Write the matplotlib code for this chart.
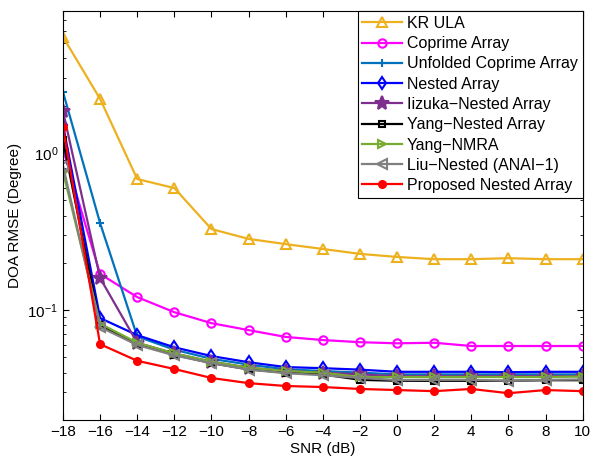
import numpy as np
import matplotlib
matplotlib.use('Agg')
import matplotlib.pyplot as plt
from matplotlib.ticker import LogLocator, NullFormatter

plt.rcParams['font.family'] = ['Liberation Sans', 'DejaVu Sans']
plt.rcParams['font.size'] = 11

# SNR (dB) and RMSE values
snr = [-18, -16, -14, -12, -10, -8, -6, -4, -2, 0, 2, 4, 6, 8, 10]
kr_ula = [5.48, 2.21, 0.683, 0.598, 0.328, 0.284, 0.263, 0.245, 0.228, 0.218, 0.211, 0.211, 0.214, 0.211, 0.211]
coprime = [1.06, 0.170, 0.121, 0.097, 0.0826, 0.0746, 0.0675, 0.0645, 0.0625, 0.0615, 0.0620, 0.0591, 0.0591, 0.0591, 0.0591]
unfolded = [2.45, 0.358, 0.068, 0.056, 0.049, 0.045, 0.042, 0.041, 0.040, 0.039, 0.039, 0.039, 0.039, 0.039, 0.039]
nested = [1.51, 0.089, 0.0693, 0.058, 0.051, 0.0466, 0.0434, 0.0427, 0.0418, 0.0405, 0.0405, 0.0405, 0.0403, 0.0405, 0.0405]
iizuka = [1.85, 0.160, 0.062, 0.053, 0.047, 0.043, 0.041, 0.040, 0.039, 0.038, 0.038, 0.038, 0.038, 0.038, 0.038]
yang_nested = [1.21, 0.080, 0.061, 0.052, 0.046, 0.042, 0.040, 0.039, 0.036, 0.0355, 0.0355, 0.0355, 0.0355, 0.0358, 0.0358]
yang_nmra = [0.76, 0.082, 0.062, 0.053, 0.047, 0.043, 0.041, 0.040, 0.0375, 0.0375, 0.0375, 0.0375, 0.0375, 0.0375, 0.0378]
liu = [0.83, 0.078, 0.060, 0.0515, 0.046, 0.0418, 0.0397, 0.0385, 0.037, 0.0359, 0.036, 0.036, 0.0355, 0.036, 0.0362]
proposed = [1.46, 0.0607, 0.0476, 0.0422, 0.037, 0.0343, 0.0329, 0.0324, 0.0315, 0.031, 0.0305, 0.0315, 0.0296, 0.031, 0.0305]

fig = plt.figure(figsize=(5.94, 4.62), dpi=100)
ax = fig.add_axes([0.106, 0.091, 0.875, 0.885])

# (label, data, color, marker, filled, size)
series = [
    ('KR ULA', kr_ula, '#EDB120', '^', False, 7),
    ('Coprime Array', coprime, '#FF00FF', 'o', False, 6),
    ('Unfolded Coprime Array', unfolded, '#0072BD', '+', False, 6),
    ('Nested Array', nested, '#0000FF', 'd', False, 6),
    ('Iizuka-Nested Array', iizuka, '#7E2F8E', '*', True, 10),
    ('Yang-Nested Array', yang_nested, 'black', 's', False, 5),
    ('Yang-NMRA', yang_nmra, '#77AC30', '>', False, 6),
    ('Liu-Nested (ANAI-1)', liu, '#808080', '<', False, 7),
    ('Proposed Nested Array', proposed, '#FF0000', 'o', True, 5),
]
for lab, y, c, m, filled, ms in series:
    ax.plot(snr, y, color=c, marker=m, ms=ms, lw=1.6, mew=1.5,
            mfc=c if filled else 'none', label=lab.replace('-', '\u2212'))

ax.set_yscale('log')
ax.set_xlim(-18, 10)
ax.set_ylim(0.02, 8)
ax.set_xticks(np.arange(-18, 11, 2))
ax.yaxis.set_minor_locator(LogLocator(base=10, subs=np.arange(2, 10)))
ax.yaxis.set_minor_formatter(NullFormatter())
ax.tick_params(which='both', direction='in', top=True, right=True)
ax.tick_params(which='major', length=4)
ax.tick_params(which='minor', length=2)
ax.set_xlabel('SNR (dB)', labelpad=2)
ax.set_ylabel('DOA RMSE (Degree)')

leg = ax.legend(loc='upper right', borderaxespad=0, fancybox=False,
                edgecolor='black', framealpha=1, handlelength=2.5,
                labelspacing=0.33, borderpad=0.3, handletextpad=0.3,
                fontsize=11.5)
leg.get_frame().set_linewidth(0.8)

fig.savefig('out.png', dpi=100)
